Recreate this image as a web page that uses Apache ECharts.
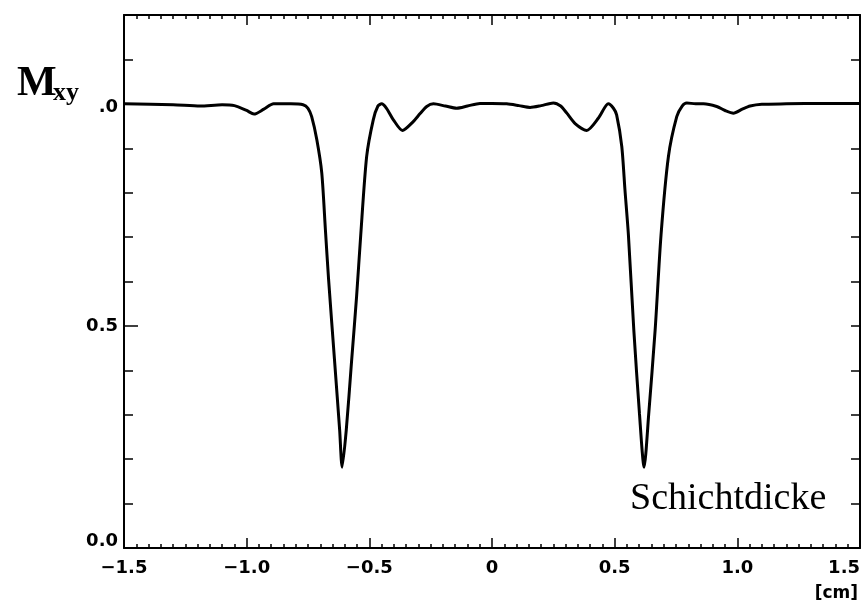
<!DOCTYPE html>
<html>
<head>
<meta charset="utf-8">
<title>Mxy Schichtdicke</title>
<script src="https://cdn.jsdelivr.net/npm/echarts@6/dist/echarts.min.js"></script>
<style>
  html, body { margin: 0; padding: 0; background: #fff; }
  #main { width: 864px; height: 605px; }
</style>
</head>
<body>
<div id="main"></div>
<script>
// position in cm
var xs = [-1.50, -1.30, -1.19, -1.10, -1.05, -1.00, -0.97, -0.93, -0.89, -0.82,
  -0.77, -0.75, -0.735, -0.714, -0.694, -0.679, -0.666, -0.641, -0.621, -0.611,
  -0.594, -0.573, -0.552, -0.535, -0.511, -0.484, -0.465, -0.450, -0.430, -0.402,
  -0.365, -0.321, -0.293, -0.266, -0.239, -0.190, -0.144, -0.100, -0.049, 0.000,
  0.060, 0.110, 0.155, 0.200, 0.250, 0.280, 0.305, 0.340, 0.386, 0.434,
  0.474, 0.495, 0.508, 0.529, 0.542, 0.556, 0.578, 0.601, 0.620, 0.639,
  0.665, 0.689, 0.719, 0.753, 0.775, 0.794, 0.830, 0.862, 0.916, 0.950,
  0.984, 1.020, 1.052, 1.100, 1.200, 1.350, 1.500];
// transverse magnetisation
var mxy = [1.000, 0.998, 0.995, 0.998, 0.996, 0.985, 0.977, 0.988, 1.000, 1.000,
  0.998, 0.990, 0.971, 0.919, 0.845, 0.716, 0.604, 0.416, 0.266, 0.182,
  0.266, 0.416, 0.566, 0.705, 0.881, 0.964, 0.995, 1.000, 0.990, 0.964,
  0.940, 0.960, 0.978, 0.994, 1.000, 0.995, 0.990, 0.995, 1.001, 1.001,
  1.000, 0.996, 0.992, 0.996, 1.002, 0.995, 0.979, 0.955, 0.940, 0.968,
  1.000, 0.990, 0.975, 0.904, 0.806, 0.705, 0.491, 0.303, 0.182, 0.303,
  0.491, 0.705, 0.881, 0.971, 0.995, 1.002, 1.000, 1.000, 0.994, 0.985,
  0.979, 0.988, 0.995, 0.999, 1.000, 1.001, 1.001];
var yLabels = {'0': '{lo|0.0}', '0.5': '0.5', '1': '{hi|.0}'};

var pts = [];
for (var i = 0; i < xs.length; i++) pts.push([xs[i], mxy[i]]);

var labelFont = { color: '#000', fontFamily: 'DejaVu Sans', fontWeight: 'bold', fontSize: 18 };
var blackLine = { show: true, onZero: false, lineStyle: { color: '#000', width: 2 } };

function xAxisDef(pos, showLabel) {
  return {
    type: 'value', position: pos, min: -1.5, max: 1.5, interval: 0.5,
    axisLine: blackLine,
    axisTick: { inside: true, length: 10, lineStyle: { color: '#000', width: 1.5 } },
    minorTick: { show: true, splitNumber: 10, length: 4, lineStyle: { color: '#000', width: 1.5 } },
    axisLabel: Object.assign({
      show: showLabel, margin: 11, alignMaxLabel: 'right',
      formatter: function (v) {
        if (Math.abs(v) < 1e-9) return '0';
        return v.toFixed(1).replace('-', '\u2212');
      }
    }, labelFont),
    splitLine: { show: false }
  };
}

var chart = echarts.init(document.getElementById('main'));
chart.setOption({
  animation: false,
  grid: { left: 124, right: 4, top: 15, bottom: 57, outerBoundsMode: 'none', containLabel: false },
  xAxis: [xAxisDef('bottom', true), xAxisDef('top', false)],
  yAxis: [
    {
      type: 'value', position: 'left', min: 0, max: 1.2, interval: 0.1,
      axisLine: blackLine,
      axisTick: { inside: true, length: 9, lineStyle: { color: '#000', width: 1.5 } },
      axisLabel: Object.assign({
        margin: 6,
        formatter: function (v) {
          var k = String(Math.round(v * 10) / 10);
          return yLabels[k] || '';
        },
        rich: {
          lo: Object.assign({ padding: [0, 0, 13, 0] }, labelFont),
          hi: Object.assign({ padding: [6, 0, 0, 0] }, labelFont)
        }
      }, labelFont),
      splitLine: { show: false }
    },
    {
      type: 'value', position: 'left', min: 0, max: 1.2, interval: 0.5,
      axisLine: { show: false, onZero: false },
      axisTick: { inside: true, length: 14, lineStyle: { color: '#000', width: 1.5 } },
      axisLabel: { show: false },
      splitLine: { show: false }
    },
    {
      type: 'value', position: 'right', min: 0, max: 1.2, interval: 0.1,
      axisLine: blackLine,
      axisTick: { inside: true, length: 9, lineStyle: { color: '#000', width: 1.5 } },
      axisLabel: { show: false },
      splitLine: { show: false }
    }
  ],
  graphic: [
    { type: 'text', x: 17, y: 84, style: { text: 'M', font: 'bold 42px "Liberation Serif"', fill: '#000', verticalAlign: 'middle' } },
    { type: 'text', x: 53, y: 93, style: { text: 'xy', font: 'bold 26px "Liberation Serif"', fill: '#000', verticalAlign: 'middle' } },
    { type: 'text', x: 630, y: 499, style: { text: 'Schichtdicke', font: '38px "Liberation Serif"', fill: '#000', verticalAlign: 'middle' } },
    { type: 'text', x: 858, y: 594, style: { text: '[cm]', font: 'bold 17px "DejaVu Sans"', fill: '#000', align: 'right', verticalAlign: 'middle' } }
  ],
  series: [{
    type: 'line', data: pts, xAxisIndex: 0, yAxisIndex: 0,
    showSymbol: false, smooth: 0.25,
    lineStyle: { color: '#000', width: 3 }
  }]
});
</script>
</body>
</html>
